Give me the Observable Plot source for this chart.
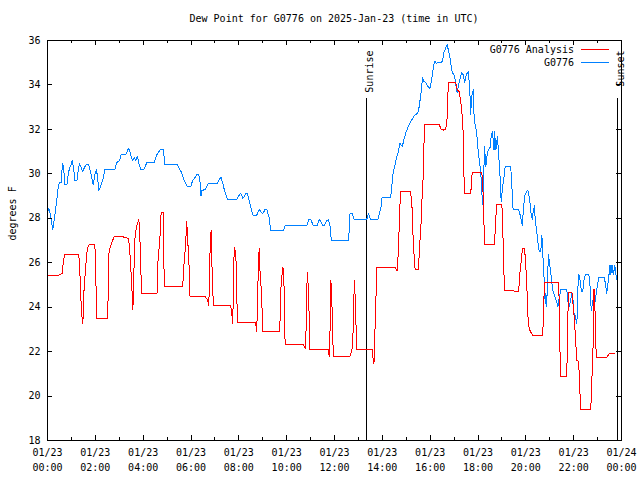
<!DOCTYPE html>
<html>
<head>
<meta charset="utf-8">
<script src="https://cdn.jsdelivr.net/npm/d3@7"></script>
<script src="https://cdn.jsdelivr.net/npm/@observablehq/plot@0.6"></script>
<style>
  html, body { margin: 0; padding: 0; background: #fff; }
  #wrap { position: relative; width: 640px; height: 480px; font-family: "DejaVu Sans Mono", monospace; }
  #title { position: absolute; top: 0; left: 0; width: 640px; height: 30px; }
  #title span { position: absolute; left: 334px; top: 13px; transform: translateX(-50%); font-size: 10px; white-space: nowrap; line-height: 12px; }
  #chart { position: absolute; top: 30px; left: 0; }
</style>
</head>
<body>
<div id="wrap">
  <div id="title"><span id="titleText"></span></div>
  <div id="chart"></div>
</div>
<script>
const titleText = "Dew Point for G0776 on 2025-Jan-23 (time in UTC)";
const yLabel = "degrees F";
const seriesNames = ["G0776 Analysis", "G0776"];
const seriesColors = ["#ff0000", "#0080ff"];

const xTickHours = [0, 2, 4, 6, 8, 10, 12, 14, 16, 18, 20, 22, 24];
const xMinorHours = [1, 3, 5, 7, 9, 11, 13, 15, 17, 19, 21, 23];
const xDateLabels = ["01/23","01/23","01/23","01/23","01/23","01/23","01/23","01/23","01/23","01/23","01/23","01/23","01/24"];
const xTimeLabels = ["00:00","02:00","04:00","06:00","08:00","10:00","12:00","14:00","16:00","18:00","20:00","22:00","00:00"];
const yTicks = [18, 20, 22, 24, 26, 28, 30, 32, 34, 36];

const sunEvents = [
  {label: "Sunrise", hour: 13.32},
  {label: "Sunset", hour: 23.82}
];

// [hour UTC, dew point °F]
const analysis = [
[0.00,25.44],[0.47,25.44],[0.61,25.52],[0.67,26.12],[0.73,26.38],[1.31,26.38],[1.37,25.22],[1.42,23.72],[1.48,23.27],
[1.51,24.47],[1.56,25.30],[1.62,26.12],[1.67,26.65],[1.73,26.80],[1.98,26.83],[2.01,25.97],[2.04,24.32],[2.07,23.49],
[2.49,23.49],[2.54,24.47],[2.57,26.42],[2.62,26.72],[2.71,26.95],[2.79,27.20],[3.15,27.20],[3.21,27.13],[3.38,27.10],
[3.43,26.72],[3.52,25.07],[3.55,24.32],[3.57,23.87],[3.60,25.07],[3.63,26.27],[3.66,27.17],[3.71,27.55],[3.77,27.80],
[3.82,27.93],[3.85,27.47],[3.88,26.57],[3.91,25.44],[3.94,24.62],[4.58,24.62],[4.61,25.97],[4.66,26.57],[4.72,27.40],
[4.75,28.27],[4.83,28.27],[4.84,27.40],[4.87,25.75],[4.90,24.92],[5.65,24.92],[5.71,25.97],[5.77,26.72],[5.82,27.85],
[5.85,27.25],[5.91,26.12],[5.96,24.47],[6.60,24.47],[6.69,24.32],[6.74,24.09],[6.77,24.92],[6.80,26.72],[6.84,27.46],
[6.90,24.92],[6.94,24.09],[7.66,24.09],[7.72,23.56],[7.75,23.27],[7.78,25.97],[7.83,26.71],[7.89,25.97],[7.94,23.30],
[8.70,23.30],[8.75,22.92],[8.81,25.52],[8.85,26.66],[8.89,25.52],[8.95,24.62],[9.00,22.89],[9.69,22.89],[9.72,23.27],
[9.74,24.62],[9.80,25.37],[9.83,25.79],[9.86,25.75],[9.89,24.92],[9.91,23.11],[9.94,22.33],[10.69,22.33],[10.78,22.15],
[10.81,22.96],[10.86,25.55],[10.92,24.69],[10.95,22.96],[10.97,22.09],[11.73,22.09],[11.78,21.79],[11.81,22.82],
[11.85,25.19],[11.89,24.24],[11.95,21.79],[12.65,21.79],[12.73,22.09],[12.78,22.93],[12.83,25.22],[12.87,24.32],
[12.93,22.09],[13.57,22.09],[13.62,21.61],[13.65,21.43],[13.68,22.51],[13.74,24.66],[13.76,25.79],[14.53,25.79],
[14.62,25.64],[14.67,26.54],[14.73,28.35],[14.76,29.20],[15.17,29.20],[15.23,28.80],[15.29,27.02],[15.34,26.12],
[15.37,25.70],[15.51,25.70],[15.57,26.95],[15.62,27.78],[15.65,28.68],[15.71,29.88],[15.76,32.20],[16.38,32.20],
[16.46,32.02],[16.54,31.96],[16.65,32.02],[16.71,32.51],[16.74,33.56],[16.77,34.09],[17.07,34.09],[17.13,33.79],
[17.21,33.71],[17.27,33.34],[17.32,32.89],[17.38,31.84],[17.41,30.03],[17.44,29.10],[17.69,29.10],[17.72,29.43],
[17.74,29.91],[17.77,30.08],[18.16,30.08],[18.22,28.98],[18.25,27.78],[18.27,26.84],[18.69,26.84],[18.75,28.08],
[18.78,28.60],[19.00,28.60],[19.03,27.62],[19.06,26.72],[19.08,25.67],[19.11,24.74],[19.70,24.72],[19.74,25.40],
[19.78,25.82],[19.84,26.42],[19.86,26.65],[19.95,26.65],[19.98,26.12],[20.03,25.30],[20.09,23.57],[20.14,23.04],
[20.20,22.89],[20.28,22.74],[20.70,22.74],[20.73,23.34],[20.76,24.47],[20.78,25.12],[21.37,25.12],[21.40,24.02],
[21.43,21.91],[21.45,20.86],[21.71,20.86],[21.73,21.89],[21.76,23.72],[21.79,24.64],[21.93,24.64],[21.96,24.30],
[22.01,23.72],[22.07,22.74],[22.13,21.61],[22.18,21.61],[22.24,21.01],[22.27,19.96],[22.29,19.39],[22.71,19.39],
[22.74,19.96],[22.77,21.00],[22.82,22.51],[22.85,24.80],[22.88,24.80],[22.91,22.50],[22.96,21.73],[23.38,21.73],
[23.45,21.85],[23.50,21.91],[23.72,21.91]
];

const station = [
[0.00,28.30],[0.06,28.45],[0.13,28.10],[0.22,27.50],[0.29,28.00],[0.38,28.75],[0.45,29.40],[0.50,29.60],[0.57,29.60],
[0.61,30.20],[0.64,30.45],[0.68,30.20],[0.73,29.50],[0.81,29.50],[0.87,30.00],[0.92,30.25],[0.98,30.40],[1.03,30.60],
[1.09,30.30],[1.14,29.70],[1.23,29.70],[1.28,30.10],[1.33,30.45],[1.40,30.30],[1.47,30.10],[1.55,30.30],[1.62,30.40],
[1.72,30.40],[1.77,30.20],[1.84,29.90],[1.91,29.50],[1.98,29.95],[2.05,30.20],[2.11,29.65],[2.15,29.25],[2.21,29.40],
[2.29,29.65],[2.35,29.90],[2.40,30.20],[2.82,30.20],[2.89,30.50],[3.02,30.60],[3.07,30.85],[3.27,30.85],[3.39,31.15],
[3.45,31.00],[3.52,30.70],[3.57,30.60],[3.63,30.75],[3.69,30.60],[3.76,30.80],[3.83,30.40],[3.91,30.20],[4.03,30.20],
[4.15,30.50],[4.45,30.50],[4.59,30.90],[4.73,31.10],[4.85,31.10],[4.90,30.40],[5.43,30.40],[5.50,30.25],[5.60,30.07],
[5.68,29.80],[5.84,29.43],[5.99,29.43],[6.07,29.70],[6.18,29.85],[6.24,29.99],[6.32,29.99],[6.38,29.60],[6.42,29.00],
[6.46,29.25],[6.60,29.30],[6.66,29.45],[6.74,29.58],[7.11,29.58],[7.19,29.75],[7.25,29.85],[7.33,29.58],[7.41,29.20],
[7.53,28.86],[7.92,28.86],[7.99,29.00],[8.08,29.13],[8.17,28.90],[8.22,28.95],[8.28,29.13],[8.36,29.10],[8.42,28.85],
[8.50,28.50],[8.59,28.14],[8.75,28.14],[8.85,28.40],[8.92,28.30],[9.00,28.20],[9.10,28.40],[9.17,28.40],[9.26,28.05],
[9.34,27.44],[9.86,27.44],[9.94,27.69],[10.85,27.69],[10.92,27.93],[11.00,27.96],[11.11,27.69],[11.28,27.69],
[11.36,27.93],[11.45,27.83],[11.50,27.69],[11.59,27.69],[11.67,27.90],[11.75,27.93],[11.81,27.69],[11.87,26.99],
[12.59,26.99],[12.65,28.23],[12.73,28.23],[12.82,27.96],[13.35,27.96],[13.42,28.20],[13.51,27.96],[13.82,27.96],
[13.88,28.25],[13.96,28.56],[13.99,28.95],[14.35,28.95],[14.41,29.58],[14.44,29.96],[14.50,30.26],[14.59,30.71],
[14.67,31.01],[14.73,31.39],[14.78,31.30],[14.84,31.25],[14.90,31.53],[14.98,31.84],[15.06,32.06],[15.15,32.29],
[15.26,32.47],[15.34,32.62],[15.45,32.71],[15.51,32.80],[15.57,33.26],[15.62,33.64],[15.68,34.32],[15.73,34.17],
[15.82,34.09],[15.90,33.95],[15.98,33.82],[16.04,34.09],[16.10,34.54],[16.15,34.92],[16.21,35.07],[16.26,34.97],
[16.32,35.00],[16.46,35.00],[16.52,35.10],[16.57,35.45],[16.65,35.67],[16.71,35.82],[16.77,35.52],[16.82,35.29],
[16.88,34.84],[16.93,34.54],[16.99,34.47],[17.05,34.24],[17.10,33.79],[17.13,33.64],[17.16,33.86],[17.21,34.09],
[17.27,34.39],[17.32,34.54],[17.38,34.47],[17.44,34.09],[17.49,34.39],[17.55,34.54],[17.60,34.59],[17.66,33.71],
[17.69,32.66],[17.74,33.48],[17.80,33.79],[17.83,32.74],[17.88,32.21],[17.94,31.91],[17.99,31.23],[18.05,30.63],
[18.11,30.18],[18.14,29.58],[18.19,28.60],[18.23,29.43],[18.27,31.23],[18.33,30.33],[18.39,30.94],[18.44,31.09],
[18.50,31.16],[18.55,31.68],[18.61,31.91],[18.64,31.38],[18.67,31.08],[18.69,31.91],[18.75,31.08],[18.81,31.68],
[18.86,30.94],[18.92,29.89],[18.97,28.76],[19.03,29.43],[19.08,29.80],[19.14,30.34],[19.36,30.34],[19.40,29.88],
[19.44,28.86],[19.47,28.38],[19.70,28.38],[19.75,28.20],[19.81,27.93],[19.85,27.66],[19.90,28.38],[19.95,29.01],
[20.03,29.20],[20.09,29.25],[20.17,28.75],[20.23,28.08],[20.28,27.93],[20.31,28.38],[20.37,28.56],[20.39,27.93],
[20.45,27.48],[20.51,26.87],[20.56,26.50],[20.62,26.50],[20.65,26.87],[20.67,27.25],[20.70,26.57],[20.76,25.37],
[20.81,24.17],[20.84,24.62],[20.87,24.02],[20.92,25.67],[20.95,26.35],[21.01,25.82],[21.06,25.37],[21.12,24.81],
[21.20,24.50],[21.29,24.24],[21.34,24.02],[21.40,24.43],[21.46,24.80],[21.71,24.80],[21.76,24.24],[21.82,24.02],
[21.87,24.32],[21.93,24.62],[21.99,24.17],[22.01,23.72],[22.07,23.61],[22.13,23.24],[22.15,23.72],[22.18,24.92],
[22.21,25.49],[22.27,25.22],[22.32,24.72],[22.38,24.72],[22.43,25.22],[22.49,25.49],[22.63,25.49],[22.68,25.07],
[22.71,24.24],[22.74,23.87],[22.80,24.32],[22.85,24.02],[22.91,24.32],[22.96,24.77],[23.05,25.34],[23.27,25.34],
[23.33,25.07],[23.38,24.62],[23.41,24.85],[23.47,25.38],[23.52,25.90],[23.55,25.45],[23.60,25.90],[23.66,25.45],
[23.72,25.90],[23.77,25.45],[23.80,25.22]
];

document.getElementById("titleText").textContent = titleText;

const W = 640, H = 450, mL = 47, mR = 19, mT = 10, mB = 40;
const plotW = W - mL - mR, plotH = H - mT - mB;
const majorLen = 5, minorLen = 3;
const crisp = {shapeRendering: "crispEdges"};

const chart = Plot.plot({
  width: W, height: H,
  marginLeft: mL, marginRight: mR, marginTop: mT, marginBottom: mB,
  style: {fontFamily: "DejaVu Sans Mono, monospace", fontSize: "10px", color: "black", background: "white", overflow: "visible"},
  x: {domain: [0, 24], axis: null},
  y: {domain: [18, 36], axis: null},
  marks: [
    // sunrise / sunset
    Plot.ruleX(sunEvents, {x: "hour", stroke: "black", strokeWidth: 1, insetTop: 58, ...crisp}),
    Plot.text(sunEvents, {x: "hour", text: "label", frameAnchor: "top", dy: 10, rotate: -90, textAnchor: "end", dx: 0, fill: "black"}),
    // data
    Plot.line(station, {x: d => d[0], y: d => d[1], stroke: seriesColors[1], strokeWidth: 1, ...crisp}),
    Plot.line(analysis, {x: d => d[0], y: d => d[1], stroke: seriesColors[0], strokeWidth: 1, ...crisp}),
    // ticks (inward, mirrored)
    Plot.tickX(xTickHours, {x: d => d, stroke: "black", insetTop: plotH - majorLen, ...crisp}),
    Plot.tickX(xTickHours, {x: d => d, stroke: "black", insetBottom: plotH - majorLen, ...crisp}),
    Plot.tickX(xMinorHours, {x: d => d, stroke: "black", insetTop: plotH - minorLen, ...crisp}),
    Plot.tickX(xMinorHours, {x: d => d, stroke: "black", insetBottom: plotH - minorLen, ...crisp}),
    Plot.tickY(yTicks, {y: d => d, stroke: "black", insetRight: plotW - majorLen, ...crisp}),
    Plot.tickY(yTicks, {y: d => d, stroke: "black", insetLeft: plotW - majorLen, ...crisp}),
    // tick labels
    Plot.text(xTickHours, {x: d => d, text: (d, i) => xDateLabels[i], frameAnchor: "bottom", dy: 15, fill: "black"}),
    Plot.text(xTickHours, {x: d => d, text: (d, i) => xTimeLabels[i], frameAnchor: "bottom", dy: 30, fill: "black"}),
    Plot.text(yTicks, {y: d => d, text: d => String(d), frameAnchor: "left", textAnchor: "end", dx: -7, fill: "black"}),
    Plot.text([yLabel], {frameAnchor: "left", dx: -35, rotate: -90, fill: "black"}),
    Plot.frame({stroke: "black", strokeWidth: 1, ...crisp})
  ]
});
document.getElementById("chart").appendChild(chart);

// legend (top-right, inside frame)
const svg = d3.select(chart);
const legendRight = mL + plotW;
seriesNames.forEach((name, i) => {
  const yy = mT + 10 + i * 13;
  svg.append("text")
    .attr("x", legendRight - 47).attr("y", yy).attr("dy", "0.32em")
    .attr("text-anchor", "end").attr("fill", "black")
    .attr("font-family", "DejaVu Sans Mono, monospace").attr("font-size", 10)
    .text(name);
  svg.append("line")
    .attr("x1", legendRight - 40).attr("x2", legendRight - 12)
    .attr("y1", yy - 1).attr("y2", yy - 1)
    .attr("stroke", seriesColors[i]).attr("stroke-width", 1)
    .attr("shape-rendering", "crispEdges");
});
</script>
</body>
</html>
